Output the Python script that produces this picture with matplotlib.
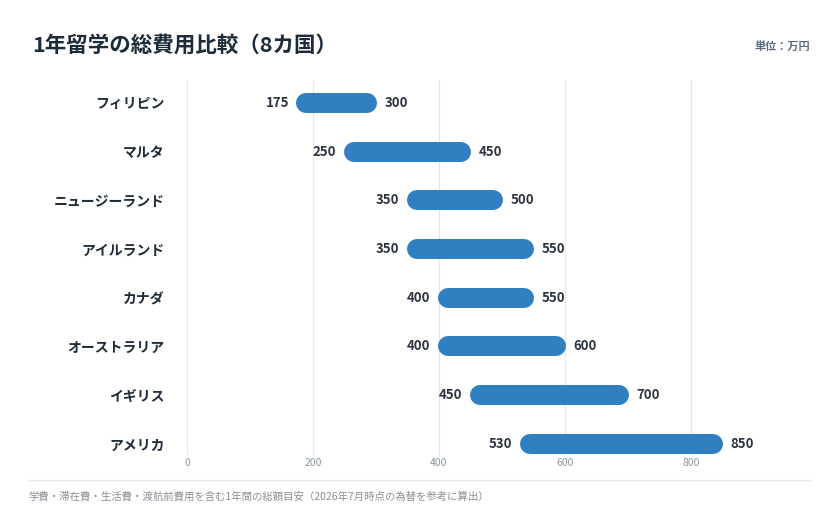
import matplotlib.pyplot as plt
from matplotlib.lines import Line2D

plt.rcParams['font.family'] = ['Noto Sans CJK JP', 'DejaVu Sans']

# 国別の留学費用（万円）
countries = ["フィリピン", "マルタ", "ニュージーランド", "アイルランド",
             "カナダ", "オーストラリア", "イギリス", "アメリカ"]
low = [175, 250, 350, 350, 400, 400, 450, 530]
high = [300, 450, 500, 550, 550, 600, 700, 850]
xticks = [0, 200, 400, 600, 800]

bar_color = "#2f7fc1"
dark = "#1e2b3a"

fig = plt.figure(figsize=(8.4, 5.2), dpi=100)
W, H = 840, 520
ax = fig.add_axes([187 / W, 1 - 455 / H, (810 - 187) / W, (455 - 80) / H])

n = len(countries)
ax.set_xlim(0, 989)
ax.set_ylim(n - 1 + 0.23, -0.47)
ax.set_axisbelow(True)

for s in ax.spines.values():
    s.set_visible(False)
ax.set_xticks(xticks)
ax.set_xticklabels([str(t) for t in xticks])
ax.tick_params(axis="x", length=0, pad=2, labelsize=7.5, labelcolor="#8a96a3")
ax.set_yticks(range(n))
ax.set_yticklabels(countries, fontweight="bold", fontsize=10, color=dark)
ax.tick_params(axis="y", length=0, pad=16)
ax.grid(axis="x", color="#e4e7eb", linewidth=0.9)

# 丸端の棒: 太線を半径ぶん短くして描く
px_x = (810 - 187) / 989
bar_px = 20
cap = (bar_px / 2) * 0.92 / px_x

for i in range(n):
    ax.plot([low[i] + cap, high[i] - cap], [i, i], color=bar_color,
            linewidth=bar_px * 72 / 100, solid_capstyle="round",
            zorder=3, clip_on=False)
    ax.annotate(str(low[i]), (low[i], i), xytext=(-6, 0), textcoords="offset points",
                ha="right", va="center", fontsize=9.5, fontweight="bold",
                color="#2b3440", annotation_clip=False)
    ax.annotate(str(high[i]), (high[i], i), xytext=(6, 0), textcoords="offset points",
                ha="left", va="center", fontsize=9.5, fontweight="bold",
                color="#2b3440", annotation_clip=False)

fig.text(32 / W, 1 - 45 / H, "1年留学の総費用比較（8カ国）", fontsize=15.5,
         fontweight="bold", color=dark, ha="left", va="center")
fig.text(810 / W, 1 - 46 / H, "単位：万円", fontsize=8, fontweight="bold",
         color="#5b6b7d", ha="right", va="center")

fig.add_artist(Line2D([28 / W, 810 / W], [1 - 480 / H, 1 - 480 / H],
                      color="#e6e8eb", linewidth=1))
fig.text(28 / W, 1 - 496 / H,
         "学費・滞在費・生活費・渡航前費用を含む1年間の総額目安（2026年7月時点の為替を参考に算出）",
         fontsize=7.5, color="#8a8f96", ha="left", va="center")

fig.savefig("out.png", dpi=100, facecolor="white")
